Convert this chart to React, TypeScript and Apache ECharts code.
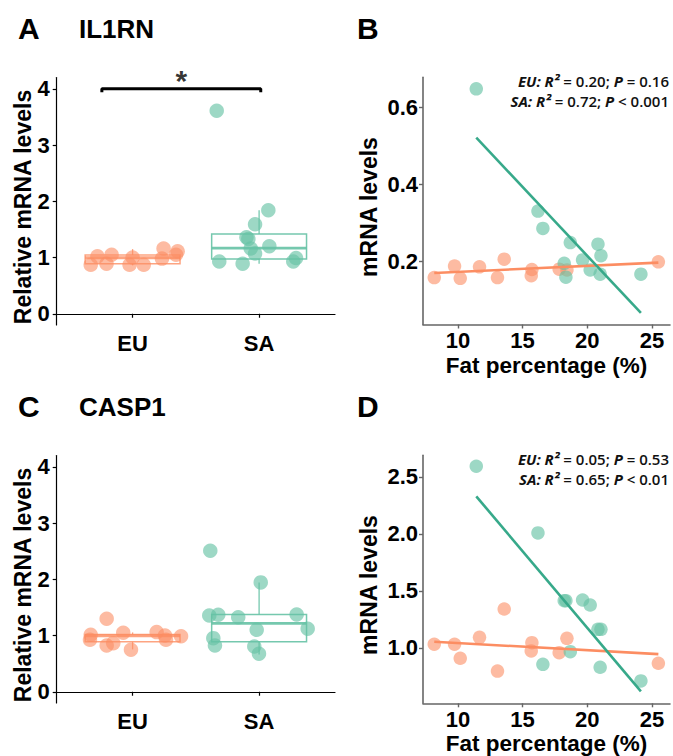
import React, { useEffect, useRef } from "react";
import * as echarts from "echarts";

// ---------- data ----------
const groups = ["EU", "SA"];

// Panel A: IL1RN relative mRNA (jittered positions around 1 = EU, 2 = SA)
const il1rnEUPos = [0.669, 0.722, 0.794, 0.834, 0.976, 1.0, 1.088, 1.232, 1.245, 1.343, 1.356];
const il1rnEUVal = [0.87, 1.02, 0.89, 1.05, 0.87, 1.0, 0.87, 0.98, 1.16, 1.05, 1.11];
const il1rnSAPos = [1.665, 1.968, 2.073, 1.9, 1.915, 1.934, 1.968, 2.081, 1.685, 1.87, 2.27, 2.292];
const il1rnSAVal = [3.61, 1.59, 1.84, 1.36, 1.33, 1.16, 1.07, 1.2, 0.93, 0.89, 0.93, 0.99];
// box stats: [min, q1, median, q3, max]
const il1rnEUBox = [0.86, 0.89, 0.996, 1.045, 1.15];
const il1rnSABox = [0.89, 0.975, 1.167, 1.42, 1.84];
const sigBracket = [0.757, 2.013];
const sigLevel = 4;
const sigLabel = "*";

// Panel C: CASP1 relative mRNA
const casp1EUPos = [0.669, 0.663, 0.795, 0.795, 0.847, 0.926, 0.987, 1.19, 1.256, 1.264, 1.383];
const casp1EUVal = [1.013, 0.924, 1.298, 0.823, 0.864, 1.049, 0.747, 1.06, 1.0, 0.924, 0.988];
const casp1SAPos = [1.614, 2.013, 1.606, 1.677, 1.835, 2.297, 1.981, 2.384, 1.638, 1.651, 1.962, 1.999];
const casp1SAVal = [2.507, 1.944, 1.356, 1.369, 1.326, 1.374, 1.102, 1.12, 0.953, 0.823, 0.805, 0.676];
const casp1EUBox = [0.753, 0.889, 0.996, 1.019, 1.055];
const casp1SABox = [0.664, 0.889, 1.215, 1.375, 1.944];

// Panels B, D: fat percentage vs mRNA levels
const fatEU = [8.17, 9.74, 10.18, 11.67, 13.06, 13.58, 15.72, 15.67, 17.83, 18.43, 25.5];
const fatSA = [11.42, 16.19, 16.57, 18.22, 18.35, 18.69, 19.64, 20.23, 20.83, 21.0, 21.06, 24.15];
const il1rnFatEU = [0.158, 0.188, 0.156, 0.186, 0.158, 0.206, 0.179, 0.163, 0.18, 0.178, 0.199];
const il1rnFatSA = [0.649, 0.331, 0.286, 0.195, 0.159, 0.249, 0.204, 0.178, 0.245, 0.167, 0.215, 0.167];
const casp1FatEU = [1.033, 1.033, 0.91, 1.094, 0.798, 1.342, 1.047, 0.974, 0.959, 1.085, 0.866];
const casp1FatSA = [2.594, 2.009, 0.857, 1.415, 1.415, 0.968, 1.421, 1.377, 1.164, 0.831, 1.164, 0.711];
// fitted regression line endpoints [[x1, y1], [x2, y2]]
const il1rnFitEU = [[8.17, 0.17], [25.5, 0.197]];
const il1rnFitSA = [[11.42, 0.522], [24.15, 0.066]];
const casp1FitEU = [[8.17, 1.055], [25.5, 0.946]];
const casp1FitSA = [[11.42, 2.33], [24.15, 0.62]];

const il1rnStats = ["{i|EU:} {i|R²} = 0.20; {i|P} = 0.16", "{i|SA:} {i|R²} = 0.72; {i|P} < 0.001"];
const casp1Stats = ["{i|EU:} {i|R²} = 0.05; {i|P} = 0.53", "{i|SA:} {i|R²} = 0.65; {i|P} < 0.01"];

const groupTicks = [1, 2];
const relTicks = [0, 1, 2, 3, 4];
const fatTicks = [10, 15, 20, 25];
const il1rnFatTicks = [0.2, 0.4, 0.6];
const casp1FatTicks = [1.0, 1.5, 2.0, 2.5];

// ---------- styles ----------
const FONT = "'Liberation Sans', Arial, Helvetica, sans-serif";
const STAT_FONT = "'Open Sans', sans-serif";
const ORANGE = "#FC8D62";
const TEAL_LINE = "#37a98a";
const PT_ORANGE = "rgba(252,141,98,0.74)";
const PT_TEAL = "rgba(102,194,165,0.8)";

const zip = (xs: number[], ys: number[]) => xs.map((x, i) => [x, ys[i]]);

export default function App() {
  const ref = useRef<HTMLDivElement>(null);
  useEffect(() => {
    if (!ref.current) return;
    const chart = echarts.init(ref.current, null, { renderer: "svg" });

    const grids = [
      { left: 56.7, top: 77.5, width: 278.3, height: 247.5 },
      { left: 423, top: 77.3, width: 247, height: 247.2 },
      { left: 56.7, top: 455.5, width: 278.3, height: 247.5 },
      { left: 423, top: 455.3, width: 247, height: 248 },
    ];

    const labelStyle = { color: "#000", fontSize: 22, fontWeight: "bold" as const, fontFamily: FONT };

    const catX = (gi: number) => ({
      type: "value",
      gridIndex: gi,
      min: 0.4,
      max: 2.6,
      axisLine: { show: true, lineStyle: { color: "#000", width: 1.2 } },
      axisTick: { show: true, length: 4, customValues: groupTicks, lineStyle: { color: "#000", width: 1.2 } },
      axisLabel: { ...labelStyle, margin: 7, customValues: groupTicks, formatter: (v: number) => groups[Math.round(v) - 1] },
      splitLine: { show: false },
    });
    const relY = (gi: number) => ({
      type: "value",
      gridIndex: gi,
      min: -0.2,
      max: 4.2,
      axisLine: { show: true, lineStyle: { color: "#000", width: 1.2 } },
      axisTick: { show: true, length: 4, customValues: relTicks, lineStyle: { color: "#000", width: 1.2 } },
      axisLabel: { ...labelStyle, margin: 7, customValues: relTicks },
      splitLine: { show: false },
    });
    const fatX = (gi: number) => ({
      type: "value",
      gridIndex: gi,
      min: 7.3,
      max: 26.4,
      axisLine: { show: true, lineStyle: { color: "#666", width: 1.6 } },
      axisTick: { show: true, length: 4, customValues: fatTicks, lineStyle: { color: "#666", width: 1.4 } },
      axisLabel: { ...labelStyle, margin: 5, customValues: fatTicks },
      splitLine: { show: false },
    });
    const mY = (gi: number, min: number, max: number, ticks: number[]) => ({
      type: "value",
      gridIndex: gi,
      min,
      max,
      axisLine: { show: true, lineStyle: { color: "#666", width: 1.6 } },
      axisTick: { show: true, length: 4, customValues: ticks, lineStyle: { color: "#666", width: 1.4 } },
      axisLabel: { ...labelStyle, margin: 5, customValues: ticks, formatter: (v: number) => v.toFixed(1) },
      splitLine: { show: false },
    });

    const boxSeries = (gi: number, eu: number[], sa: number[]) => ({
      type: "custom",
      xAxisIndex: gi,
      yAxisIndex: gi,
      z: 2,
      silent: true,
      data: [
        [1, ...eu, 0],
        [2, ...sa, 1],
      ],
      encode: { x: 0, y: [1, 5] },
      renderItem: (_p: any, api: any) => {
        const c = api.value(0);
        const mn = api.value(1), q1 = api.value(2), md = api.value(3), q3 = api.value(4), mx = api.value(5);
        const col = api.value(6) === 0 ? "rgba(252,141,98,0.8)" : "rgba(102,194,165,0.9)";
        const hw = 0.375;
        const tl = api.coord([c - hw, q3]);
        const br = api.coord([c + hw, q1]);
        const pMin = api.coord([c, mn]);
        const pMax = api.coord([c, mx]);
        const pMedL = api.coord([c - hw, md]);
        const pMedR = api.coord([c + hw, md]);
        return {
          type: "group",
          children: [
            { type: "line", shape: { x1: pMax[0], y1: pMax[1], x2: pMax[0], y2: tl[1] }, style: { stroke: col, lineWidth: 1.3 } },
            { type: "line", shape: { x1: pMin[0], y1: br[1], x2: pMin[0], y2: pMin[1] }, style: { stroke: col, lineWidth: 1.3 } },
            {
              type: "rect",
              shape: { x: tl[0], y: tl[1], width: br[0] - tl[0], height: br[1] - tl[1] },
              style: { fill: "none", stroke: col, lineWidth: 1.5 },
            },
            { type: "line", shape: { x1: pMedL[0], y1: pMedL[1], x2: pMedR[0], y2: pMedR[1] }, style: { stroke: col, lineWidth: 2.8 } },
          ],
        };
      },
    });

    const pts = (gi: number, data: number[][], color: string, size: number) => ({
      type: "scatter",
      xAxisIndex: gi,
      yAxisIndex: gi,
      data,
      symbolSize: size,
      itemStyle: { color },
      z: 3,
      silent: true,
    });
    const fit = (gi: number, data: number[][], color: string) => ({
      type: "line",
      xAxisIndex: gi,
      yAxisIndex: gi,
      data,
      symbol: "none",
      lineStyle: { color, width: 2.6 },
      z: 4,
      silent: true,
    });

    const bracketData = [
      [sigBracket[0], sigLevel - 0.06],
      [sigBracket[0], sigLevel],
      [sigBracket[1], sigLevel],
      [sigBracket[1], sigLevel - 0.06],
    ];

    const richI = { fontStyle: "italic", fontWeight: "bold", fontSize: 15, fontFamily: STAT_FONT, color: "#111" };
    const statText = (x: number, y: number, text: string) => ({
      type: "text",
      x,
      y,
      style: {
        text,
        fill: "#111",
        font: `600 15px ${STAT_FONT}`,
        align: "right",
        verticalAlign: "middle",
        textAlign: "right",
        textVerticalAlign: "middle",
        rich: { i: richI },
      },
    });
    const txt = (x: number, y: number, text: string, size: number, align = "left", rotation = 0) => ({
      type: "text",
      x,
      y,
      rotation,
      style: {
        text,
        fill: "#000",
        font: `bold ${size}px ${FONT}`,
        align,
        verticalAlign: "middle",
        textAlign: align,
        textVerticalAlign: "middle",
      },
    });

    chart.setOption({
      animation: false,
      backgroundColor: "#fff",
      grid: grids,
      xAxis: [catX(0), fatX(1), catX(2), fatX(3)],
      yAxis: [relY(0), mY(1, 0.036, 0.679, il1rnFatTicks), relY(2), mY(3, 0.515, 2.69, casp1FatTicks)],
      series: [
        boxSeries(0, il1rnEUBox, il1rnSABox),
        pts(0, zip(il1rnEUPos, il1rnEUVal), PT_ORANGE, 14.5),
        pts(0, zip(il1rnSAPos, il1rnSAVal), PT_TEAL, 14.5),
        {
          type: "line",
          xAxisIndex: 0,
          yAxisIndex: 0,
          data: bracketData,
          symbol: "none",
          lineStyle: { color: "#000", width: 3 },
          z: 5,
          silent: true,
        },
        {
          type: "scatter",
          xAxisIndex: 0,
          yAxisIndex: 0,
          data: [[(sigBracket[0] + sigBracket[1]) / 2, sigLevel]],
          symbolSize: 2,
          itemStyle: { color: "rgba(0,0,0,0)" },
          label: {
            show: true,
            position: "top",
            distance: -8,
            formatter: sigLabel,
            color: "#000",
            fontSize: 30,
            fontWeight: "bold",
            fontFamily: FONT,
          },
          z: 6,
          silent: true,
        },
        pts(1, zip(fatEU, il1rnFatEU), PT_ORANGE, 13.5),
        pts(1, zip(fatSA, il1rnFatSA), PT_TEAL, 13.5),
        fit(1, il1rnFitEU, ORANGE),
        fit(1, il1rnFitSA, TEAL_LINE),
        boxSeries(2, casp1EUBox, casp1SABox),
        pts(2, zip(casp1EUPos, casp1EUVal), PT_ORANGE, 14.5),
        pts(2, zip(casp1SAPos, casp1SAVal), PT_TEAL, 14.5),
        pts(3, zip(fatEU, casp1FatEU), PT_ORANGE, 13.5),
        pts(3, zip(fatSA, casp1FatSA), PT_TEAL, 13.5),
        fit(3, casp1FitEU, ORANGE),
        fit(3, casp1FitSA, TEAL_LINE),
      ],
      graphic: [
        txt(18, 28, "A", 30),
        txt(79, 29, "IL1RN", 26),
        txt(357, 28, "B", 30),
        txt(18, 406, "C", 30),
        txt(79, 407, "CASP1", 26),
        txt(357, 406, "D", 30),
        txt(23, 207, "Relative mRNA levels", 23, "center", Math.PI / 2),
        txt(23, 585, "Relative mRNA levels", 23, "center", Math.PI / 2),
        txt(369, 207, "mRNA levels", 23, "center", Math.PI / 2),
        txt(369, 585, "mRNA levels", 23, "center", Math.PI / 2),
        txt(546.5, 365.5, "Fat percentage (%)", 22.5, "center"),
        txt(546.5, 743.5, "Fat percentage (%)", 22.5, "center"),
        statText(669, 81, il1rnStats[0]),
        statText(669, 101, il1rnStats[1]),
        statText(669, 459, casp1Stats[0]),
        statText(669, 479, casp1Stats[1]),
      ],
    });
    return () => chart.dispose();
  }, []);
  return <div ref={ref} style={{ position: "absolute", left: 0, top: 0, width: 673, height: 756, background: "#fff" }} />;
}
